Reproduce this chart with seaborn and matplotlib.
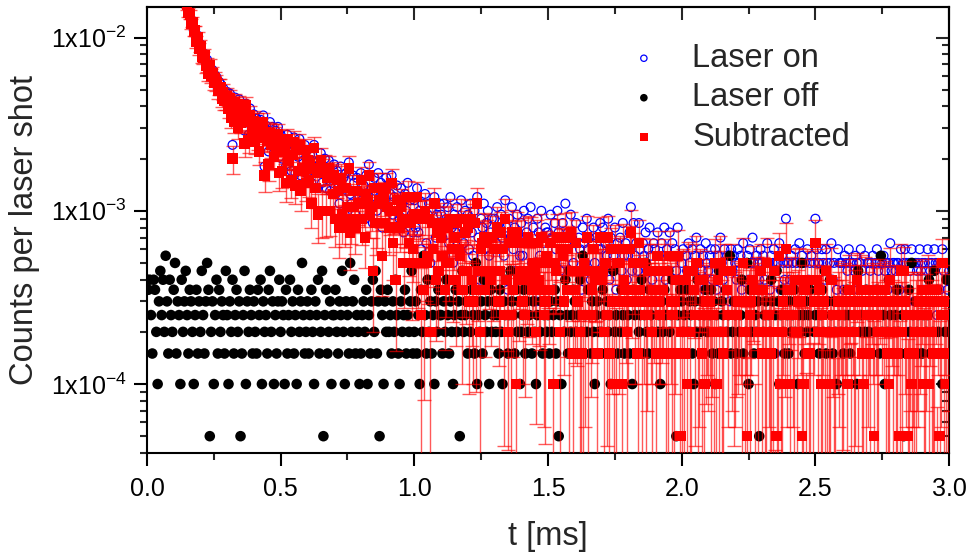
import numpy as np
import matplotlib
matplotlib.use("Agg")
import matplotlib.pyplot as plt
from matplotlib.markers import MarkerStyle
from matplotlib.ticker import MultipleLocator, LogLocator, FuncFormatter, NullFormatter, FormatStrFormatter
import seaborn as sns

# Acquisition settings
SHOTS = 20000          # laser shots accumulated per time bin
DT = 0.005             # time-bin width [ms]
T_SIGNAL_START = 0.15  # first bin of the laser-on record kept for plotting [ms]

# Raw photon counts per bin, background run (laser off), t = 0 ... 3.0 ms
off_counts = [
    8, 7, 8, 5, 3, 8, 7, 4, 2, 6, 9, 5, 8, 4, 11, 6, 3, 8, 5, 4,
    7, 10, 3, 6, 5, 2, 8, 4, 6, 9, 5, 3, 7, 6, 4, 2, 5, 7, 3, 6,
    4, 9, 5, 3, 6, 10, 7, 1, 4, 6, 2, 5, 8, 3, 7, 4, 6, 5, 3, 9,
    5, 2, 6, 4, 8, 3, 5, 7, 4, 6, 1, 3, 5, 9, 2, 6, 4, 7, 5, 3,
    6, 4, 3, 7, 5, 8, 2, 6, 4, 5, 3, 7, 9, 4, 6, 2, 5, 3, 6, 8,
    4, 6, 5, 2, 7, 3, 5, 8, 4, 6, 3, 5, 2, 7, 4, 6, 10, 5, 3, 4,
    6, 3, 5, 7, 4, 2, 6, 5, 8, 3, 4, 9, 1, 5, 7, 3, 4, 6, 2, 5,
    5, 7, 4, 3, 6, 5, 9, 4, 2, 6, 5, 3, 10, 4, 6, 8, 3, 5, 4, 2,
    3, 5, 6, 4, 7, 2, 5, 3, 6, 8, 4, 9, 3, 6, 1, 7, 5, 2, 6, 4,
    7, 4, 5, 3, 6, 4, 8, 5, 3, 2, 6, 4, 5, 7, 3, 5, 4, 6, 9, 3,
    4, 6, 3, 5, 2, 7, 4, 11, 5, 3, 8, 4, 6, 3, 5, 2, 6, 4, 7, 5,
    5, 3, 6, 4, 8, 5, 3, 6, 4, 2, 5, 7, 4, 6, 1, 5, 9, 4, 5, 6,
    3, 6, 4, 7, 5, 3, 10, 2, 5, 4, 6, 3, 8, 5, 4, 6, 2, 7, 4, 5,
    6, 4, 5, 3, 7, 4, 2, 6, 5, 8, 3, 5, 9, 6, 5, 3, 7, 4, 6, 2,
    4, 5, 7, 3, 6, 4, 5, 8, 3, 6, 4, 2, 5, 7, 4, 6, 3, 5, 10, 4,
    5, 3, 6, 4, 5, 7, 3, 6, 1, 5, 2, 6, 4, 8, 5, 3, 9, 4, 5, 7,
    6, 4, 3, 5, 8, 4, 11, 3, 5, 4, 7, 5, 3, 6, 4, 2, 5, 6, 4, 3,
    4, 7, 5, 3, 6, 4, 5, 2, 6, 9, 4, 5, 3, 6, 4, 7, 5, 3, 6, 4,
    5, 3, 6, 2, 7, 5, 3, 6, 4, 5, 8, 3, 5, 10, 4, 3, 7, 5, 4, 6,
    3, 6, 4, 5, 2, 6, 4, 7, 5, 3, 9, 4, 5, 8, 3, 6, 1, 5, 3, 7,
    6, 4, 5, 3, 7, 4, 6, 5, 3, 2, 6, 4, 8, 5, 4, 6, 3, 5, 7, 4,
    4, 5, 7, 3, 6, 2, 5, 3, 9, 4, 6, 5, 3, 7, 4, 5, 11, 3, 4, 6,
    5, 3, 6, 4, 5, 8, 3, 6, 4, 10, 2, 7, 4, 6, 3, 5, 4, 6, 1, 3,
    7, 4, 5, 6, 3, 5, 4, 8, 6, 3, 5, 9, 6, 2, 5, 7, 4, 3, 6, 5,
    3, 6, 4, 5, 7, 4, 6, 2, 5, 4, 10, 5, 3, 6, 4, 5, 7, 3, 6, 4,
    5, 4, 6, 3, 5, 7, 4, 9, 3, 6, 4, 8, 5, 3, 6, 4, 2, 6, 5, 4,
    6, 3, 5, 4, 7, 5, 3, 6, 4, 5, 6, 2, 9, 4, 5, 6, 3, 4, 7, 5,
    4, 6, 3, 5, 6, 4, 7, 5, 3, 11, 4, 5, 2, 6, 4, 8, 5, 3, 6, 4,
    5, 7, 4, 6, 3, 5, 1, 6, 5, 3, 7, 4, 10, 5, 3, 6, 4, 5, 6, 3,
    3, 5, 6, 4, 5, 8, 3, 6, 4, 9, 3, 7, 4, 6, 5, 2, 6, 4, 8, 5,
    4,
]

# Raw photon counts per bin, signal run (laser on), t = 0.15 ... 3.0 ms
on_counts = [
    312, 281, 279, 246, 250, 221, 224, 196, 205, 178,
    183, 164, 158, 161, 143, 149, 131, 139, 124, 130, 112, 121, 118, 101, 111, 108, 95, 102, 89, 96,
    97, 80, 95, 73, 48, 68, 90, 82, 64, 88, 65, 82, 78, 58, 83, 73, 55, 78, 70, 61,
    72, 54, 68, 60, 49, 67, 55, 71, 36, 62, 54, 44, 65, 52, 61, 43, 58, 49, 61, 41,
    55, 40, 52, 46, 36, 55, 44, 50, 34, 48, 53, 33, 47, 41, 52, 32, 45, 39, 48, 33,
    45, 33, 42, 29, 39, 48, 33, 38, 27, 37, 43, 29, 35, 40, 27, 34, 39, 26, 33, 30,
    37, 25, 34, 29, 22, 36, 28, 31, 19, 33, 26, 38, 25, 22, 32, 29, 19, 31, 26, 24,
    33, 23, 28, 18, 32, 25, 37, 22, 27, 17, 31, 26, 20, 33, 24, 29, 16, 26, 23, 31,
    28, 20, 25, 32, 19, 24, 16, 28, 23, 18, 27, 22, 15, 25, 20, 29, 17, 23, 19, 15,
    23, 16, 27, 15, 20, 12, 22, 18, 25, 13, 19, 22, 10, 20, 17, 24, 14, 19, 16, 22,
    19, 14, 22, 11, 18, 21, 13, 24, 16, 10, 19, 15, 21, 18, 12, 23, 16, 13, 20, 15,
    19, 12, 22, 15, 11, 20, 17, 24, 14, 8, 18, 16, 22, 12, 17, 20, 11, 15, 18, 14,
    18, 13, 21, 9, 16, 19, 14, 11, 23, 16, 7, 18, 14, 21, 12, 16, 9, 19, 14, 11,
    17, 11, 20, 8, 15, 18, 13, 21, 10, 16, 13, 6, 18, 15, 11, 20, 13, 10, 16, 15,
    15, 10, 19, 14, 7, 17, 12, 20, 15, 9, 14, 17, 10, 22, 12, 15, 9, 19, 14, 10,
    13, 17, 9, 14, 12, 7, 16, 13, 10, 18, 12, 14, 8, 13, 16, 10, 14, 9, 12, 17,
    12, 16, 9, 13, 11, 18, 8, 14, 12, 11, 16, 7, 13, 12, 14, 9, 17, 11, 13, 8,
    11, 15, 21, 9, 17, 11, 13, 9, 17, 12, 7, 13, 11, 15, 9, 12, 16, 11, 8, 13,
    12, 9, 15, 11, 7, 13, 11, 16, 8, 12, 9, 15, 11, 13, 6, 12, 9, 16, 11, 8,
    10, 12, 8, 11, 9, 13, 10, 4, 12, 9, 11, 14, 8, 10, 12, 9, 11, 7, 13, 10,
    9, 11, 12, 8, 10, 12, 7, 11, 9, 14, 10, 8, 12, 4, 11, 10, 6, 12, 9, 11,
    10, 8, 12, 10, 11, 7, 13, 10, 10, 11, 8, 12, 10, 14, 10, 4, 11, 10, 8, 12,
    10, 11, 8, 10, 13, 10, 7, 11, 10, 12, 3, 10, 10, 13, 7, 11, 10, 8, 18, 10,
    10, 8, 11, 10, 7, 12, 10, 8, 13, 10, 11, 7, 10, 5, 12, 8, 10, 11, 6, 10,
    18, 12, 10, 10, 7, 12, 10, 8, 12, 10, 6, 10, 13, 8, 10, 4, 7, 12, 10, 10,
    10, 7, 11, 10, 9, 12, 10, 6, 10, 9, 11, 10, 7, 10, 12, 9, 5, 11, 7, 10,
    10, 9, 10, 11, 7, 10, 12, 9, 10, 6, 10, 11, 9, 10, 7, 10, 13, 9, 10, 10,
    9, 10, 10, 7, 12, 9, 10, 12, 10, 4, 10, 9, 12, 10, 6, 10, 9, 10, 12, 9,
    10, 7, 10, 9, 12, 10, 9, 10, 7, 12, 10, 5, 10, 7, 10, 12, 9, 10, 10, 7,
    9,
]

legend_labels = ["Laser on", "Laser off", "Subtracted"]

# ---- derived quantities -------------------------------------------------
off = np.asarray(off_counts, dtype=float)
on = np.asarray(on_counts, dtype=float)
t_off = DT * np.arange(off.size)
t_on = T_SIGNAL_START + DT * np.arange(on.size)

i0 = int(round(T_SIGNAL_START / DT))
off_matched = off[i0:i0 + on.size]

off_rate = off / SHOTS
on_rate = on / SHOTS
sub_rate = (on - off_matched) / SHOTS
sub_err = np.sqrt(on + off_matched) / SHOTS      # Poisson error of the difference
sub_pos = np.where(sub_rate > 0, sub_rate, np.nan)

# ---- styling ------------------------------------------------------------
sns.set_style("ticks")
plt.rcParams["font.family"] = ["Liberation Sans", "DejaVu Sans"]
plt.rcParams["mathtext.default"] = "regular"
plt.rcParams["axes.linewidth"] = 1.5

fig, ax = plt.subplots(figsize=(9.7, 5.56), dpi=100)
fig.subplots_adjust(left=0.1515, right=0.9784, bottom=0.1853, top=0.9874)

sns.scatterplot(x=t_on, y=on_rate, ax=ax,
                marker=MarkerStyle("o", fillstyle="none"), color="#0000ff",
                s=40, linewidth=0.9, label=legend_labels[0], zorder=2)
sns.scatterplot(x=t_off, y=off_rate, ax=ax, marker="o", color="black",
                edgecolor="none", s=58, label=legend_labels[1], zorder=3)
ax.errorbar(t_on, sub_rate, yerr=sub_err, fmt="none",
            ecolor=(1.0, 0.0, 0.0, 0.65), elinewidth=1.0,
            capsize=5, capthick=1.0, zorder=4)
sns.scatterplot(x=t_on, y=sub_pos, ax=ax, marker="s", color="#ff0000",
                edgecolor="none", s=56, label=legend_labels[2], zorder=5)

ax.set_yscale("log")
ax.set_xlim(0, 3.0)
ax.set_ylim(4e-5, 1.5e-2)

# x axis
ax.xaxis.set_major_locator(MultipleLocator(0.5))
ax.xaxis.set_minor_locator(MultipleLocator(0.25))
ax.xaxis.set_major_formatter(FormatStrFormatter("%.1f"))

# y axis: 1x10^n labels
ax.yaxis.set_major_locator(LogLocator(base=10))
ax.yaxis.set_minor_locator(LogLocator(base=10, subs=np.arange(2, 10)))
ax.yaxis.set_minor_formatter(NullFormatter())
ax.yaxis.set_major_formatter(
    FuncFormatter(lambda v, p: r"$1x10^{%d}$" % int(round(np.log10(v)))))

ax.tick_params(which="major", direction="out", length=9.4, width=1.5,
               labelsize=18, colors="black")
ax.tick_params(which="minor", direction="out", length=5, width=1.5)
ax.tick_params(axis="x", which="major", pad=8)
ax.tick_params(axis="y", which="major", pad=5)
ax.tick_params(top=False, right=False, which="both")

# inward ticks on the top and right frame
secx = ax.secondary_xaxis("top")
secx.xaxis.set_major_locator(MultipleLocator(0.5))
secx.xaxis.set_minor_locator(MultipleLocator(0.25))
secx.tick_params(which="major", direction="in", length=9.4, width=1.5, labeltop=False)
secx.tick_params(which="minor", direction="in", length=5, width=1.5)

secy = ax.secondary_yaxis("right")
secy.yaxis.set_major_locator(LogLocator(base=10))
secy.yaxis.set_minor_locator(LogLocator(base=10, subs=np.arange(2, 10)))
secy.yaxis.set_minor_formatter(NullFormatter())
secy.tick_params(which="major", direction="in", length=9.4, width=1.5, labelright=False)
secy.tick_params(which="minor", direction="in", length=5, width=1.5)
for sec in (secx, secy):
    for sp in sec.spines.values():
        sp.set_linewidth(1.5)
for sp in ax.spines.values():
    sp.set_visible(True)
    sp.set_linewidth(1.5)
    sp.set_color("black")

ax.set_xlabel("t [ms]", fontsize=23.5, labelpad=14)
ax.set_ylabel("Counts per laser shot", fontsize=23.5, labelpad=8)

handles, labels = ax.get_legend_handles_labels()
ax.legend(handles, labels, loc="upper left", bbox_to_anchor=(0.652, 0.923),
          bbox_transform=fig.transFigure, frameon=False, fontsize=23.5,
          handlelength=0.7, handletextpad=1.13, labelspacing=0.26,
          borderpad=0, borderaxespad=0, markerscale=0.72)

fig.savefig("out.png", dpi=100)
